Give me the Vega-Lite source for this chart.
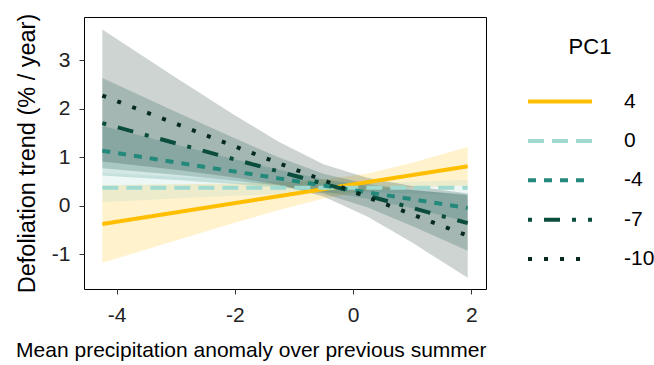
{
  "$schema": "https://vega.github.io/schema/vega-lite/v6.json",
  "width": 402,
  "height": 272,
  "autosize": {"type": "none"},
  "padding": {"left": 84, "top": 17, "right": 168, "bottom": 76},
  "background": "white",
  "config": {
    "font": "Liberation Sans",
    "view": {"stroke": "black", "strokeWidth": 1},
    "axis": {
      "grid": false,
      "domain": false,
      "tickColor": "#333333",
      "tickSize": 5,
      "tickWidth": 1,
      "labelFont": "Liberation Sans",
      "labelFontSize": 21,
      "labelColor": "#222222",
      "titleFont": "Liberation Sans",
      "titleFontSize": 21,
      "titleFontWeight": "normal",
      "titleColor": "black"
    },
    "legend": {
      "orient": "right",
      "offset": 20,
      "padding": 20,
      "titleFont": "Liberation Sans",
      "titleFontSize": 22,
      "titleFontWeight": "normal",
      "titleColor": "black",
      "titleAnchor": "middle",
      "titlePadding": 25,
      "labelFont": "Liberation Sans",
      "labelFontSize": 21,
      "labelColor": "black",
      "labelOffset": 30,
      "symbolType": "stroke",
      "symbolSize": 4096,
      "symbolStrokeWidth": 4,
      "clipHeight": 35,
      "rowPadding": 4.4
    }
  },
  "data": {
    "values": [
      {"PC1": "4", "x": -4.24, "y": -0.38, "lo": -1.18, "hi": 0.42},
      {"PC1": "4", "x": -3.0, "y": -0.141, "lo": -0.72, "hi": 0.438},
      {"PC1": "4", "x": -2.0, "y": 0.051, "lo": -0.356, "hi": 0.458},
      {"PC1": "4", "x": -1.25, "y": 0.196, "lo": -0.092, "hi": 0.484},
      {"PC1": "4", "x": -0.5, "y": 0.34, "lo": 0.144, "hi": 0.536},
      {"PC1": "4", "x": 0.25, "y": 0.485, "lo": 0.306, "hi": 0.664},
      {"PC1": "4", "x": 1.0, "y": 0.629, "lo": 0.376, "hi": 0.882},
      {"PC1": "4", "x": 1.94, "y": 0.81, "lo": 0.413, "hi": 1.207},
      {"PC1": "0", "x": -4.24, "y": 0.37, "lo": 0.07, "hi": 0.67},
      {"PC1": "0", "x": -3.0, "y": 0.37, "lo": 0.146, "hi": 0.594},
      {"PC1": "0", "x": -2.0, "y": 0.37, "lo": 0.203, "hi": 0.537},
      {"PC1": "0", "x": -1.25, "y": 0.37, "lo": 0.24, "hi": 0.5},
      {"PC1": "0", "x": -0.5, "y": 0.37, "lo": 0.265, "hi": 0.475},
      {"PC1": "0", "x": 0.25, "y": 0.37, "lo": 0.269, "hi": 0.471},
      {"PC1": "0", "x": 1.0, "y": 0.37, "lo": 0.25, "hi": 0.49},
      {"PC1": "0", "x": 1.94, "y": 0.37, "lo": 0.206, "hi": 0.534},
      {"PC1": "-4", "x": -4.24, "y": 1.13, "lo": 0.62, "hi": 1.64},
      {"PC1": "-4", "x": -3.0, "y": 0.893, "lo": 0.527, "hi": 1.259},
      {"PC1": "-4", "x": -2.0, "y": 0.702, "lo": 0.447, "hi": 0.957},
      {"PC1": "-4", "x": -1.25, "y": 0.559, "lo": 0.378, "hi": 0.74},
      {"PC1": "-4", "x": -0.5, "y": 0.416, "lo": 0.286, "hi": 0.546},
      {"PC1": "-4", "x": 0.25, "y": 0.273, "lo": 0.141, "hi": 0.405},
      {"PC1": "-4", "x": 1.0, "y": 0.13, "lo": -0.055, "hi": 0.315},
      {"PC1": "-4", "x": 1.94, "y": -0.05, "lo": -0.331, "hi": 0.231},
      {"PC1": "-7", "x": -4.24, "y": 1.7, "lo": 0.77, "hi": 2.63},
      {"PC1": "-7", "x": -3.0, "y": 1.287, "lo": 0.637, "hi": 1.937},
      {"PC1": "-7", "x": -2.0, "y": 0.953, "lo": 0.519, "hi": 1.387},
      {"PC1": "-7", "x": -1.25, "y": 0.703, "lo": 0.413, "hi": 0.993},
      {"PC1": "-7", "x": -0.5, "y": 0.453, "lo": 0.25, "hi": 0.656},
      {"PC1": "-7", "x": 0.25, "y": 0.203, "lo": -0.041, "hi": 0.447},
      {"PC1": "-7", "x": 1.0, "y": -0.047, "lo": -0.42, "hi": 0.326},
      {"PC1": "-7", "x": 1.94, "y": -0.36, "lo": -0.931, "hi": 0.211},
      {"PC1": "-10", "x": -4.24, "y": 2.27, "lo": 0.91, "hi": 3.63},
      {"PC1": "-10", "x": -3.0, "y": 1.69, "lo": 0.738, "hi": 2.642},
      {"PC1": "-10", "x": -2.0, "y": 1.223, "lo": 0.582, "hi": 1.864},
      {"PC1": "-10", "x": -1.25, "y": 0.872, "lo": 0.431, "hi": 1.313},
      {"PC1": "-10", "x": -0.5, "y": 0.521, "lo": 0.189, "hi": 0.853},
      {"PC1": "-10", "x": 0.25, "y": 0.17, "lo": -0.229, "hi": 0.569},
      {"PC1": "-10", "x": 1.0, "y": -0.18, "lo": -0.763, "hi": 0.403},
      {"PC1": "-10", "x": 1.94, "y": -0.62, "lo": -1.489, "hi": 0.249}
    ]
  },
  "encoding": {
    "x": {
      "field": "x",
      "type": "quantitative",
      "scale": {"domain": [-4.55, 2.25], "nice": false, "zero": false},
      "axis": {"values": [-4, -2, 0, 2], "title": "Mean precipitation anomaly over previous summer", "titleAnchor": "end", "labelPadding": 10, "titlePadding": 14, "labelExpr": "replace(datum.label, '−', '-')"}
    }
  },
  "layer": [
    {
      "mark": {"type": "area", "opacity": 0.2},
      "encoding": {
        "y": {
          "field": "lo",
          "type": "quantitative",
          "scale": {"domain": [-1.72, 3.89], "nice": false, "zero": false},
          "axis": {"values": [-1, 0, 1, 2, 3], "title": "Defoliation trend (% / year)", "titleFontSize": 23.5, "labelPadding": 9, "titlePadding": 12, "labelExpr": "replace(datum.label, '−', '-')"}
        },
        "y2": {"field": "hi"},
        "fill": {
          "field": "PC1",
          "type": "nominal",
          "scale": {"domain": ["-10", "-7", "-4", "0", "4"], "range": ["#05291F", "#0A4D3C", "#22897B", "#A0D9D0", "#FFBF00"]},
          "legend": null
        }
      }
    },
    {
      "mark": {"type": "line", "strokeWidth": 4, "strokeCap": "butt"},
      "encoding": {
        "y": {"field": "y", "type": "quantitative"},
        "stroke": {
          "field": "PC1",
          "type": "nominal",
          "scale": {"domain": ["4", "0", "-4", "-7", "-10"], "range": ["#FFBF00", "#A0D9D0", "#22897B", "#0A4D3C", "#05291F"]},
          "legend": {"title": "PC1"}
        },
        "strokeDash": {
          "field": "PC1",
          "type": "nominal",
          "scale": {"domain": ["4", "0", "-4", "-7", "-10"], "range": [[1, 0], [16, 8], [8, 8], [4, 12, 16, 12], [4, 12]]},
          "legend": {"title": "PC1"}
        }
      }
    }
  ]
}
